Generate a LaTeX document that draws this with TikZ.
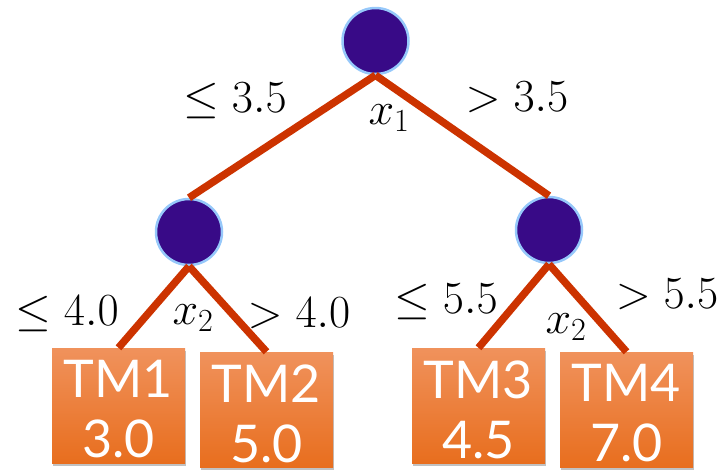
\RequirePackage{fix-cm}
\documentclass[tikz,border=0pt]{standalone}
\usepackage{fontspec}
\newfontfamily\boxfont{Lato}
\usetikzlibrary{shadows}
\definecolor{branch}{RGB}{204,51,0}
\definecolor{splitfill}{RGB}{56,10,135}
\definecolor{splitrim}{RGB}{150,200,250}
\definecolor{leaftop}{RGB}{240,146,92}
\definecolor{leafbot}{RGB}{232,110,30}
\tikzset{
  split/.style={circle, fill=splitfill, draw=splitrim, line width=2.5pt,
    minimum size=66pt, inner sep=0pt},
  leaf/.style={rectangle, top color=leaftop, bottom color=leafbot,
    minimum width=133pt, minimum height=115pt, inner sep=0pt,
    drop shadow={opacity=0.35, shadow xshift=1pt, shadow yshift=-3pt, fill=black!70}},
  leaftext/.style={text=white, align=center, inner sep=0pt,
    font=\boxfont\fontsize{52}{60}\selectfont},
  edge/.style={draw=branch, line width=7.5pt},
  cond/.style={inner sep=0pt, font=\fontsize{46}{50}\selectfont},
}
\begin{document}
\begin{tikzpicture}[x=1pt, y=-1pt]
  \useasboundingbox (0,0) rectangle (725,469);

  % split nodes
  \node[split] (root) at (375.5,41) {};
  \node[split] (lc) at (189,232) {};
  \node[split] (rc) at (549,230) {};

  % leaf models
  \node[leaf] (tm1) at (118.5,405.5) {};
  \node[leaf] (tm2) at (266.5,409.5) {};
  \node[leaf] (tm3) at (478.5,405.5) {};
  \node[leaf] (tm4) at (626.5,409.5) {};
  \node[leaftext] (t1) at ([yshift=-4pt]tm1.center) {TM1\\3.0};
  \node[leaftext] (t2) at ([yshift=-4pt]tm2.center) {TM2\\5.0};
  \node[leaftext] (t3) at ([yshift=-4pt]tm3.center) {TM3\\4.5};
  \node[leaftext] (t4) at ([yshift=-4pt]tm4.center) {TM4\\7.0};

  % branches
  \draw[edge] (root.south) -- (lc.north);
  \draw[edge] (root.south) -- (rc.north);
  \draw[edge] (lc.south) -- (tm1.north);
  \draw[edge] (lc.south) -- (tm2.north);
  \draw[edge] (rc.south) -- (tm3.north);
  \draw[edge] (rc.south) -- (tm4.north);

  % split conditions
  \node[cond] (r1) at (235,101) {$\leq 3.5$};
  \node[cond] (r2) at (517,97) {$> 3.5$};
  \node[cond] (v1) at (389,118) {$x_1$};
  \node[cond] (l1) at (67,314) {$\leq 4.0$};
  \node[cond] (v2) at (193,318) {$x_2$};
  \node[cond] (l2) at (299,313) {$> 4.0$};
  \node[cond] (m1) at (446,302) {$\leq 5.5$};
  \node[cond] (v3) at (566,327) {$x_2$};
  \node[cond] (m2) at (667,294) {$> 5.5$};
\end{tikzpicture}
\end{document}
